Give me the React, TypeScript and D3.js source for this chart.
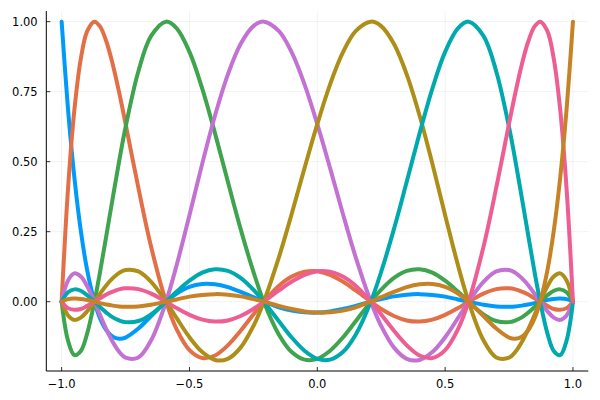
import React from 'react';
import * as d3 from 'd3';

const xValues = [-1, -0.975, -0.95, -0.925, -0.9, -0.8717, -0.85, -0.825, -0.8, -0.775, -0.75, -0.7, -0.65, -0.5917, -0.55, -0.5, -0.45, -0.4, -0.35, -0.3, -0.25, -0.2093, -0.15, -0.1, -0.05, 0, 0.05, 0.1, 0.15, 0.2093, 0.25, 0.3, 0.35, 0.4, 0.45, 0.5, 0.55, 0.5917, 0.65, 0.7, 0.75, 0.775, 0.8, 0.825, 0.85, 0.8717, 0.9, 0.925, 0.95, 0.975, 1];

const series1 = [1, 0.687, 0.442, 0.253, 0.112, 0, -0.059, -0.102, -0.125, -0.132, -0.128, -0.096, -0.051, 0, 0.029, 0.053, 0.063, 0.062, 0.052, 0.035, 0.016, 0, -0.020, -0.032, -0.038, -0.039,
  -0.035, -0.026, -0.015, 0, 0.009, 0.019, 0.025, 0.027, 0.024, 0.018, 0.008, 0, -0.011, -0.017, -0.018, -0.017, -0.014, -0.010, -0.005, 0, 0.006, 0.010, 0.011, 0.009, 0];
const series2 = [0, 0.404, 0.686, 0.867, 0.966, 1, 0.983, 0.929, 0.847, 0.747, 0.636, 0.407, 0.196, 0, -0.099, -0.173, -0.201, -0.192, -0.156, -0.104, -0.046, 0, 0.057, 0.090, 0.107, 0.109,
  0.096, 0.072, 0.040, 0, -0.026, -0.051, -0.067, -0.071, -0.064, -0.047, -0.023, 0, 0.029, 0.045, 0.048, 0.044, 0.036, 0.026, 0.012, 0, -0.015, -0.026, -0.029, -0.023, 0];
const series3 = [0, -0.139, -0.191, -0.176, -0.113, 0, 0.105, 0.237, 0.371, 0.502, 0.623, 0.822, 0.949, 1, 0.976, 0.892, 0.761, 0.601, 0.429, 0.260, 0.107, 0, -0.118, -0.180, -0.207, -0.204,
  -0.175, -0.128, -0.070, 0, 0.043, 0.085, 0.110, 0.116, 0.104, 0.075, 0.036, 0, -0.045, -0.069, -0.073, -0.067, -0.056, -0.039, -0.019, 0, 0.023, 0.039, 0.044, 0.034, 0];
const series4 = [0, 0.076, 0.101, 0.090, 0.055, 0, -0.047, -0.099, -0.144, -0.179, -0.200, -0.199, -0.138, 0, 0.131, 0.309, 0.493, 0.665, 0.811, 0.920, 0.984, 1, 0.966, 0.890, 0.776, 0.634,
  0.477, 0.314, 0.159, 0, -0.087, -0.164, -0.204, -0.208, -0.180, -0.127, -0.059, 0, 0.071, 0.108, 0.113, 0.103, 0.084, 0.059, 0.028, 0, -0.034, -0.057, -0.065, -0.049, 0];
const series5 = [0, -0.049, -0.065, -0.057, -0.034, 0, 0.028, 0.059, 0.084, 0.103, 0.113, 0.108, 0.071, 0, -0.059, -0.127, -0.180, -0.208, -0.204, -0.164, -0.087, 0, 0.159, 0.314, 0.477, 0.634,
  0.776, 0.890, 0.966, 1, 0.984, 0.920, 0.811, 0.665, 0.493, 0.309, 0.131, 0, -0.138, -0.199, -0.200, -0.179, -0.144, -0.099, -0.047, 0, 0.055, 0.090, 0.101, 0.076, 0];
const series6 = [0, 0.034, 0.044, 0.039, 0.023, 0, -0.019, -0.039, -0.056, -0.067, -0.073, -0.069, -0.045, 0, 0.036, 0.075, 0.104, 0.116, 0.110, 0.085, 0.043, 0, -0.070, -0.128, -0.175, -0.204,
  -0.207, -0.180, -0.118, 0, 0.107, 0.260, 0.429, 0.601, 0.761, 0.892, 0.976, 1, 0.949, 0.822, 0.623, 0.502, 0.371, 0.237, 0.105, 0, -0.113, -0.176, -0.191, -0.139, 0];
const series7 = [0, -0.023, -0.029, -0.026, -0.015, 0, 0.012, 0.026, 0.036, 0.044, 0.048, 0.045, 0.029, 0, -0.023, -0.047, -0.064, -0.071, -0.067, -0.051, -0.026, 0, 0.040, 0.072, 0.096, 0.109,
  0.107, 0.090, 0.057, 0, -0.046, -0.104, -0.156, -0.192, -0.201, -0.173, -0.099, 0, 0.196, 0.407, 0.636, 0.747, 0.847, 0.929, 0.983, 1, 0.966, 0.867, 0.686, 0.404, 0];
const series8 = [0, 0.009, 0.011, 0.010, 0.006, 0, -0.005, -0.010, -0.014, -0.017, -0.018, -0.017, -0.011, 0, 0.008, 0.018, 0.024, 0.027, 0.025, 0.019, 0.009, 0, -0.015, -0.026, -0.035, -0.039,
  -0.038, -0.032, -0.020, 0, 0.016, 0.035, 0.052, 0.062, 0.063, 0.053, 0.029, 0, -0.051, -0.096, -0.128, -0.132, -0.125, -0.102, -0.059, 0, 0.112, 0.253, 0.442, 0.687, 1];

const seriesList = [series1, series2, series3, series4, series5, series6, series7, series8];
const colors = ['#009AFA', '#E36F47', '#3EA44E', '#C371D2', '#AC8E18', '#00A9AD', '#ED5E93', '#C68225'];

const xTicks = [-1, -0.5, 0, 0.5, 1];
const xTickLabels = ['\u22121.0', '\u22120.5', '0.0', '0.5', '1.0'];
const yTicks = [0, 0.25, 0.5, 0.75, 1];
const yTickLabels = ['0.00', '0.25', '0.50', '0.75', '1.00'];

export default function App() {
  const left = 46.3, right = 588.3, top = 11, bottom = 371;
  const x = d3.scaleLinear().domain([-1.06, 1.06]).range([left, right]);
  const y = d3.scaleLinear().domain([-0.2475, 1.038]).range([bottom, top]);
  const line = d3.line<number>()
    .x((_, i) => x(xValues[i]))
    .y(d => y(d))
    .curve(d3.curveCatmullRom.alpha(0.5));
  const font = 'DejaVu Sans, sans-serif';
  return (
    <svg width={600} height={400} style={{ position: 'absolute', left: 0, top: 0, background: '#fff' }}>
      <rect x={0} y={0} width={600} height={400} fill="#fff" />
      {xTicks.map((t, i) => (
        <line key={'gx' + i} x1={x(t)} x2={x(t)} y1={top} y2={bottom} stroke="#000" strokeOpacity={0.1} strokeWidth={0.5} />
      ))}
      {yTicks.map((t, i) => (
        <line key={'gy' + i} x1={left} x2={right} y1={y(t)} y2={y(t)} stroke="#000" strokeOpacity={0.1} strokeWidth={0.5} />
      ))}
      {seriesList.map((s, i) => (
        <path key={'s' + i} d={line(s) || ''} fill="none" stroke={colors[i]} strokeWidth={4} strokeLinejoin="round" strokeLinecap="round" />
      ))}
      <line x1={left} x2={left} y1={top} y2={bottom} stroke="#000" strokeWidth={1} />
      <line x1={left} x2={right} y1={bottom} y2={bottom} stroke="#000" strokeWidth={1} />
      {xTicks.map((t, i) => (
        <g key={'tx' + i}>
          <line x1={x(t)} x2={x(t)} y1={bottom} y2={bottom - 4} stroke="#000" strokeWidth={0.8} />
          <text x={x(t)} y={387.5} textAnchor="middle" fontFamily={font} fontSize={11.5} fill="#000">{xTickLabels[i]}</text>
        </g>
      ))}
      {yTicks.map((t, i) => (
        <g key={'ty' + i}>
          <line x1={left} x2={left + 4} y1={y(t)} y2={y(t)} stroke="#000" strokeWidth={0.8} />
          <text x={37.7} y={y(t)} dy="0.36em" textAnchor="end" fontFamily={font} fontSize={11.5} fill="#000">{yTickLabels[i]}</text>
        </g>
      ))}
    </svg>
  );
}
